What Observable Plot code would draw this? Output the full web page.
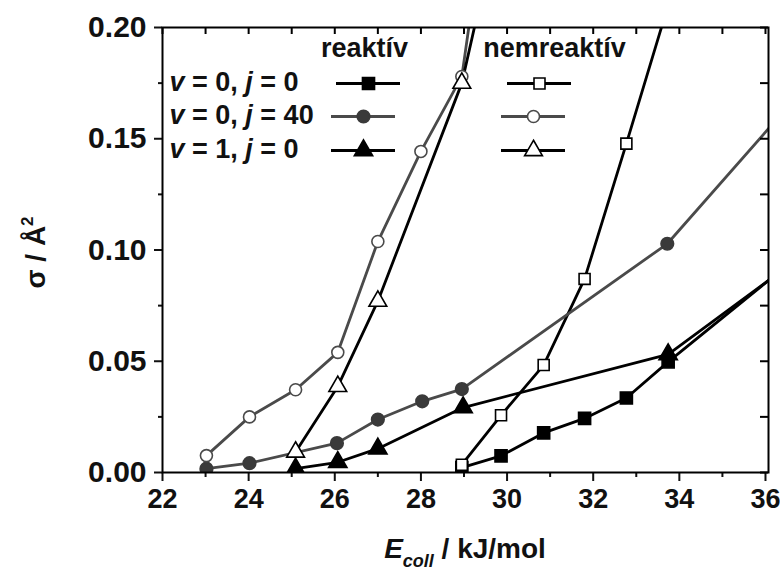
<!DOCTYPE html>
<html><head><meta charset="utf-8">
<script src="https://cdn.jsdelivr.net/npm/d3@7"></script>
<script src="https://cdn.jsdelivr.net/npm/@observablehq/plot@0.6"></script>
<style>
body{margin:0;background:#fff}
#chart{width:780px;height:570px}
</style>
</head><body><div id="chart"></div>
<script>
// ---- data ----
const xMajorTicks = [22, 24, 26, 28, 30, 32, 34, 36];
const xMinorTicks = [23, 25, 27, 29, 31, 33, 35];
const yMajorTicks = [0.00, 0.05, 0.10, 0.15, 0.20];
const yMinorTicks = [0.025, 0.075, 0.125, 0.175];

// reactive, v = 0, j = 0 (filled squares)
const reJ0_E     = [28.95, 29.86, 30.85, 31.80, 32.77, 33.74, 36.70];
const reJ0_sigma = [0.0022, 0.0075, 0.0178, 0.0243, 0.0335, 0.0497, 0.0962];
// non-reactive, v = 0, j = 0 (open squares)
const nrJ0_E     = [28.95, 29.86, 30.85, 31.80, 32.77, 33.74];
const nrJ0_sigma = [0.0035, 0.0257, 0.0483, 0.0870, 0.1478, 0.2100];
// reactive, v = 0, j = 40 (filled circles)
const reJ40_E     = [23.02, 24.02, 26.05, 27.00, 28.03, 28.95, 33.72, 36.70];
const reJ40_sigma = [0.0017, 0.0042, 0.0132, 0.0238, 0.0320, 0.0375, 0.1028, 0.1684];
// non-reactive, v = 0, j = 40 (open circles)
const nrJ40_E     = [23.02, 24.02, 25.09, 26.07, 27.00, 28.00, 28.95, 29.86];
const nrJ40_sigma = [0.0076, 0.0250, 0.0372, 0.0540, 0.1038, 0.1443, 0.1780, 0.3020];
// reactive, v = 1, j = 0 (filled triangles)
const reV1_E     = [25.09, 26.07, 27.00, 28.98, 33.74, 36.70];
const reV1_sigma = [0.0017, 0.0046, 0.0107, 0.0292, 0.0531, 0.0953];
// non-reactive, v = 1, j = 0 (open triangles)
const nrV1_E     = [25.09, 26.07, 27.00, 28.95, 29.86];
const nrV1_sigma = [0.0092, 0.0387, 0.0770, 0.1750, 0.2530];

const headers = ["reaktív", "nemreaktív"];
const rowLabels = ["v = 0, j = 0", "v = 0, j = 40", "v = 1, j = 0"];

// ---- layout / style ----
const W = 780, H = 570, ML = 162, MR = 12, MT = 27, MB = 98;
const xDomain = [22, 36.07], yDomain = [0, 0.2];
const FONT = "'Liberation Sans', Arial, Helvetica, sans-serif";
const BLACK = "#000", GRAY = "#4a4a4a", GRAYFILL = "#3a3a3a";
const sx = Plot.scale({x: {domain: xDomain, range: [ML, W - MR]}});
const sy = Plot.scale({y: {domain: yDomain, range: [H - MB, MT]}});
const rows = (E, S) => E.map((x, i) => ({x, y: S[i]}));

const series = [
  {data: rows(reJ0_E, reJ0_sigma), line: BLACK, symbol: "square", fill: BLACK, stroke: BLACK, r: 6.8},
  {data: rows(nrJ0_E, nrJ0_sigma), line: BLACK, symbol: "square", fill: "#fff", stroke: BLACK, r: 6.2},
  {data: rows(reJ40_E, reJ40_sigma), line: GRAY, symbol: "circle", fill: GRAYFILL, stroke: GRAYFILL, r: 6.3},
  {data: rows(nrJ40_E, nrJ40_sigma), line: GRAY, symbol: "circle", fill: "#fff", stroke: GRAY, r: 6},
  {data: rows(reV1_E, reV1_sigma), line: BLACK, symbol: "triangle", fill: BLACK, stroke: BLACK, r: 6.8},
  {data: rows(nrV1_E, nrV1_sigma), line: BLACK, symbol: "triangle", fill: "#fff", stroke: BLACK, r: 6.6}
];

// legend layout (pixels)
const legRowY = [83, 116, 150];
const legColX = [[368, 363, 363], [539, 533, 533]];
const legHalf = 32;
const legendItems = [];
series.forEach((s, i) => {
  const col = i % 2, row = Math.floor(i / 2);
  legendItems.push({...s, cx: legColX[col][row], cy: legRowY[row]});
});

const marks = [];
// lines
for (const s of series) {
  marks.push(Plot.line(s.data, {x: "x", y: "y", stroke: s.line, strokeWidth: 2.8, clip: true}));
}
// markers
for (const s of series) {
  marks.push(Plot.dot(s.data, {x: "x", y: "y", symbol: s.symbol, r: s.r, fill: s.fill, stroke: s.stroke, strokeWidth: 1.6, clip: true}));
}
// legend
for (const it of legendItems) {
  marks.push(Plot.ruleY([sy.invert(it.cy)], {x1: sx.invert(it.cx - legHalf), x2: sx.invert(it.cx + legHalf), stroke: it.line, strokeWidth: 3.2}));
  marks.push(Plot.dot([0], {x: () => sx.invert(it.cx), y: () => sy.invert(it.cy), symbol: it.symbol, r: it.r, fill: it.fill, stroke: it.stroke, strokeWidth: 1.6}));
}
marks.push(Plot.text(headers, {x: (d, i) => sx.invert([364, 554][i]), y: sy.invert(48), text: d => d, fontSize: 27, fontWeight: "bold", textAnchor: "middle", fill: "#111"}));
marks.push(Plot.text(rowLabels, {x: sx.invert(169), y: (d, i) => sy.invert(legRowY[i] - 1), text: d => d, fontSize: 27, fontWeight: "bold", textAnchor: "start", fill: "#111"}));

// axes
marks.push(Plot.axisX(xMajorTicks, {tickSize: 9, tickPadding: 7, fontSize: 27, fontWeight: "bold", label: null, strokeWidth: 2, tickFormat: d3.format("d")}));
marks.push(Plot.axisX(xMinorTicks, {tickSize: 5, label: null, strokeWidth: 2, tickFormat: () => ""}));
marks.push(Plot.axisY(yMajorTicks, {tickSize: 8, tickPadding: 8, fontSize: 30, fontWeight: "bold", label: null, strokeWidth: 2, tickFormat: d3.format(".2f")}));
marks.push(Plot.axisY(yMinorTicks, {tickSize: 4, label: null, strokeWidth: 2, tickFormat: () => ""}));
// inward mirror ticks (top and right)
marks.push(Plot.ruleX([...xMajorTicks, ...xMinorTicks], {x: d => d, insetBottom: (H - MT - MB) - 7, stroke: BLACK, strokeWidth: 2}));
marks.push(Plot.ruleY([...yMajorTicks, ...yMinorTicks], {y: d => d, insetLeft: (W - ML - MR) - 8, stroke: BLACK, strokeWidth: 2}));
marks.push(Plot.frame({stroke: BLACK, strokeWidth: 2}));

const svg = Plot.plot({
  width: W, height: H,
  marginLeft: ML, marginRight: MR, marginTop: MT, marginBottom: MB,
  x: {domain: xDomain},
  y: {domain: yDomain},
  style: {fontFamily: FONT, fontWeight: "bold", color: "#111", background: "#fff", overflow: "visible"},
  marks
});
document.getElementById("chart").appendChild(svg);

// rich text: italic v and j in legend rows
d3.select(svg).selectAll("text").filter(function () { return rowLabels.includes(this.textContent); }).each(function () {
  const t = this.textContent;
  const sel = d3.select(this);
  sel.text(null);
  sel.attr("xml:space", "preserve");
  t.split(/([vj])/).filter(s => s.length).forEach(seg => {
    const ts = sel.append("tspan").text(seg);
    if (seg === "v" || seg === "j") ts.attr("font-style", "italic").style("font-style", "italic");
  });
});

// axis titles
const g = d3.select(svg).append("g").attr("font-family", FONT).attr("font-weight", "bold").attr("fill", "#111");
const xt = g.append("text").attr("x", ML + (W - ML - MR) / 2).attr("y", 558).attr("text-anchor", "middle").attr("font-size", 28);
xt.attr("xml:space", "preserve");
xt.append("tspan").attr("font-style", "italic").text("E");
xt.append("tspan").attr("font-style", "italic").attr("font-size", 18).attr("dy", 9).text("coll");
xt.append("tspan").attr("dy", -9).text(" / kJ/mol");
const yt = g.append("text").attr("transform", `translate(45,${MT + (H - MT - MB) / 2 + 3}) rotate(-90)`).attr("text-anchor", "middle").attr("font-size", 28);
yt.append("tspan").text("σ / Å");
yt.append("tspan").attr("font-size", 17).attr("dy", -12).text("2");
</script>
</body></html>
